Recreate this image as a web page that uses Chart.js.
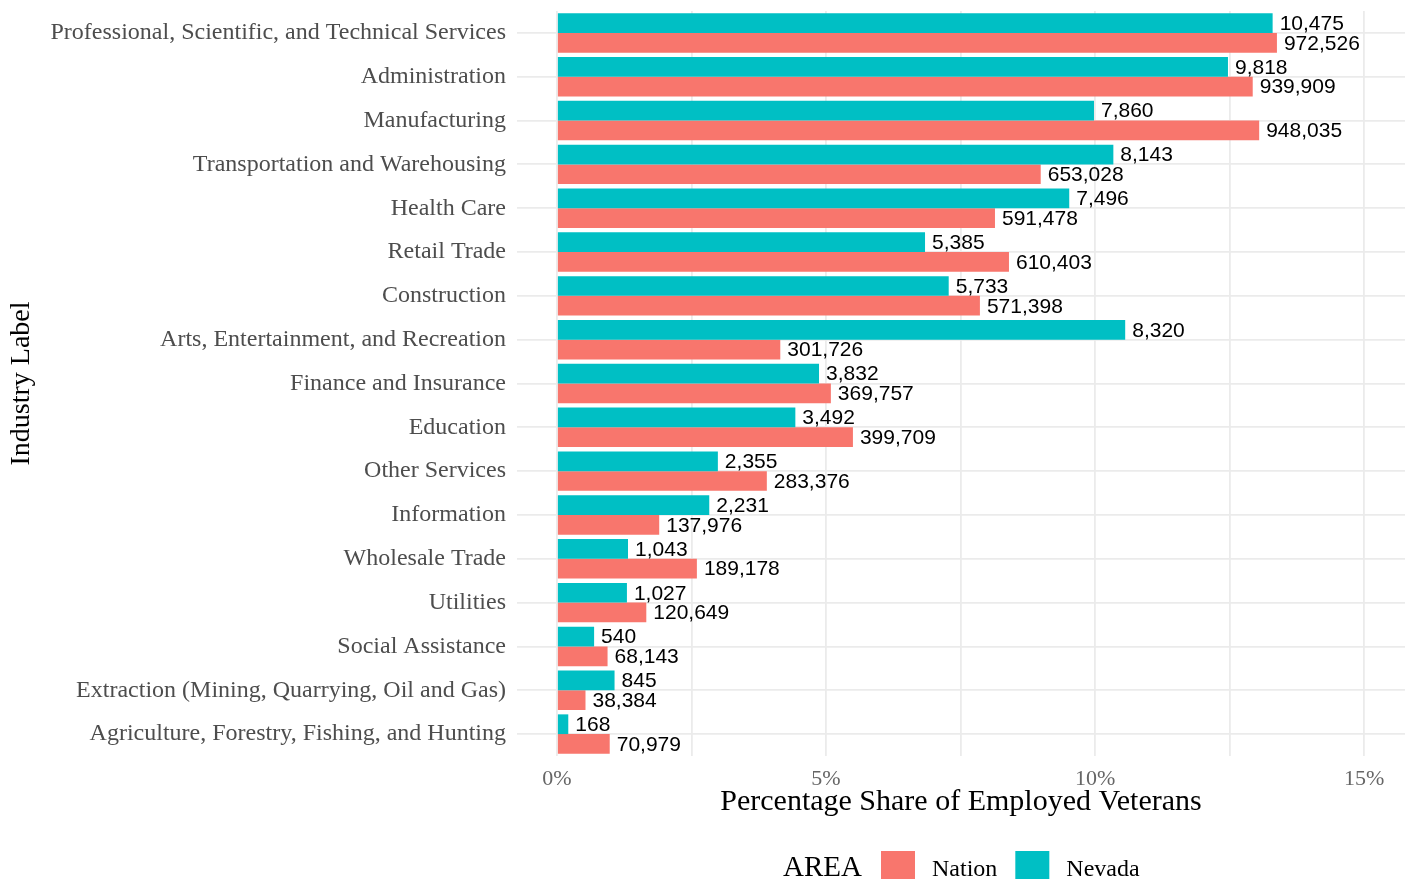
<!DOCTYPE html>
<html>
<head>
<meta charset="utf-8">
<script src="https://cdn.jsdelivr.net/npm/chart.js@4.4.1/dist/chart.umd.min.js"></script>
<style>
  html, body { margin: 0; padding: 0; background: #fff; }
  #wrap { width: 1408px; height: 879px; }
</style>
</head>
<body>
<div id="wrap"><canvas id="industry-chart" width="1408" height="879"></canvas></div>
<script>
const industries = [
    'Professional, Scientific, and Technical Services',
    'Administration',
    'Manufacturing',
    'Transportation and Warehousing',
    'Health Care',
    'Retail Trade',
    'Construction',
    'Arts, Entertainment, and Recreation',
    'Finance and Insurance',
    'Education',
    'Other Services',
    'Information',
    'Wholesale Trade',
    'Utilities',
    'Social Assistance',
    'Extraction (Mining, Quarrying, Oil and Gas)',
    'Agriculture, Forestry, Fishing, and Hunting'
];

// share of employed veterans, percent
const nevadaShare = [13.30, 12.47, 9.98, 10.34, 9.52, 6.84, 7.28, 10.56, 4.87, 4.43, 2.99, 2.83, 1.32, 1.30, 0.69, 1.07, 0.21];
const nationShare = [13.38, 12.93, 13.05, 8.99, 8.14, 8.40, 7.86, 4.15, 5.09, 5.50, 3.90, 1.90, 2.60, 1.66, 0.94, 0.53, 0.98];

// employed veteran counts printed next to the bars
const nevadaCount = [10475, 9818, 7860, 8143, 7496, 5385, 5733, 8320, 3832, 3492, 2355, 2231, 1043, 1027, 540, 845, 168];
const nationCount = [972526, 939909, 948035, 653028, 591478, 610403, 571398, 301726, 369757, 399709, 283376, 137976, 189178, 120649, 68143, 38384, 70979];

const xTicks = [0, 2.5, 5, 7.5, 10, 12.5, 15];

const COLOR_NEVADA = '#00BFC4';
const COLOR_NATION = '#F8766D';
const GRID = '#EBEBEB';
const SERIF = '"Liberation Serif", "Times New Roman", serif';
const SANS = '"Liberation Sans", Arial, sans-serif';

// count labels to the right of each bar
const barLabels = {
    id: 'barLabels',
    afterDatasetsDraw(chart) {
        const ctx = chart.ctx;
        ctx.save();
        ctx.font = '21px ' + SANS;
        ctx.fillStyle = '#000';
        ctx.textAlign = 'left';
        ctx.textBaseline = 'middle';
        chart.data.datasets.forEach((ds, i) => {
            chart.getDatasetMeta(i).data.forEach((bar, j) => {
                ctx.fillText(ds.counts[j].toLocaleString('en-US'), bar.x + 7, bar.y + 1);
            });
        });
        ctx.restore();
    }
};

// ggplot style legend: "AREA" title, then keys in a row
const areaLegend = {
    id: 'areaLegend',
    afterDraw(chart) {
        const ctx = chart.ctx;
        const items = [chart.data.datasets[1], chart.data.datasets[0]];
        ctx.save();
        ctx.textAlign = 'left';
        ctx.textBaseline = 'alphabetic';
        ctx.fillStyle = '#000';
        ctx.font = '29px ' + SERIF;
        ctx.fillText('AREA', 783, 876);
        let x = 881;
        ctx.font = '24px ' + SERIF;
        items.forEach(ds => {
            ctx.fillStyle = ds.backgroundColor;
            ctx.fillRect(x, 851, 34, 34);
            ctx.fillStyle = '#000';
            ctx.fillText(ds.label, x + 51, 876);
            x += 51 + ctx.measureText(ds.label).width + 18;
        });
        ctx.restore();
    }
};

const noEdgePadding = scale => {
    scale.paddingTop = 0;
    scale.paddingBottom = 0;
    scale.paddingLeft = 0;
    scale.paddingRight = 0;
};

const chart = new Chart(document.getElementById('industry-chart'), {
    type: 'bar',
    data: {
        labels: industries,
        datasets: [
            { label: 'Nevada', data: nevadaShare, counts: nevadaCount, backgroundColor: COLOR_NEVADA },
            { label: 'Nation', data: nationShare, counts: nationCount, backgroundColor: COLOR_NATION }
        ]
    },
    options: {
        indexAxis: 'y',
        responsive: false,
        animation: false,
        devicePixelRatio: 1,
        categoryPercentage: 0.9,
        barPercentage: 1.0,
        layout: { padding: { top: 11, right: 3, bottom: 43, left: 0 } },
        plugins: {
            legend: { display: false },
            tooltip: { enabled: false }
        },
        scales: {
            x: {
                type: 'linear',
                min: -0.743,
                max: 15.76,
                afterBuildTicks: scale => { scale.ticks = xTicks.map(v => ({ value: v })); },
                afterFit: scale => { scale.height = 80; noEdgePadding(scale); },
                border: { display: false },
                grid: { color: GRID, lineWidth: 1.8, drawTicks: false },
                ticks: {
                    padding: 10,
                    color: '#666',
                    font: { family: SERIF, size: 22 },
                    callback: v => (v % 5 === 0 ? v + '%' : '')
                },
                title: {
                    display: true,
                    text: 'Percentage Share of Employed Veterans',
                    color: '#000',
                    font: { family: SERIF, size: 30 },
                    padding: { top: 0, bottom: 16 }
                }
            },
            y: {
                afterFit: scale => { scale.width = 517; noEdgePadding(scale); },
                border: { display: false },
                grid: { color: GRID, lineWidth: 1.8, drawTicks: false, offset: false },
                ticks: {
                    padding: 11,
                    color: '#4D4D4D',
                    font: { family: SERIF, size: 24 }
                },
                title: {
                    display: true,
                    text: 'Industry Label',
                    color: '#000',
                    font: { family: SERIF, size: 28 },
                    padding: { top: 5, bottom: 0 }
                }
            }
        }
    },
    plugins: [barLabels, areaLegend]
});
</script>
</body>
</html>
